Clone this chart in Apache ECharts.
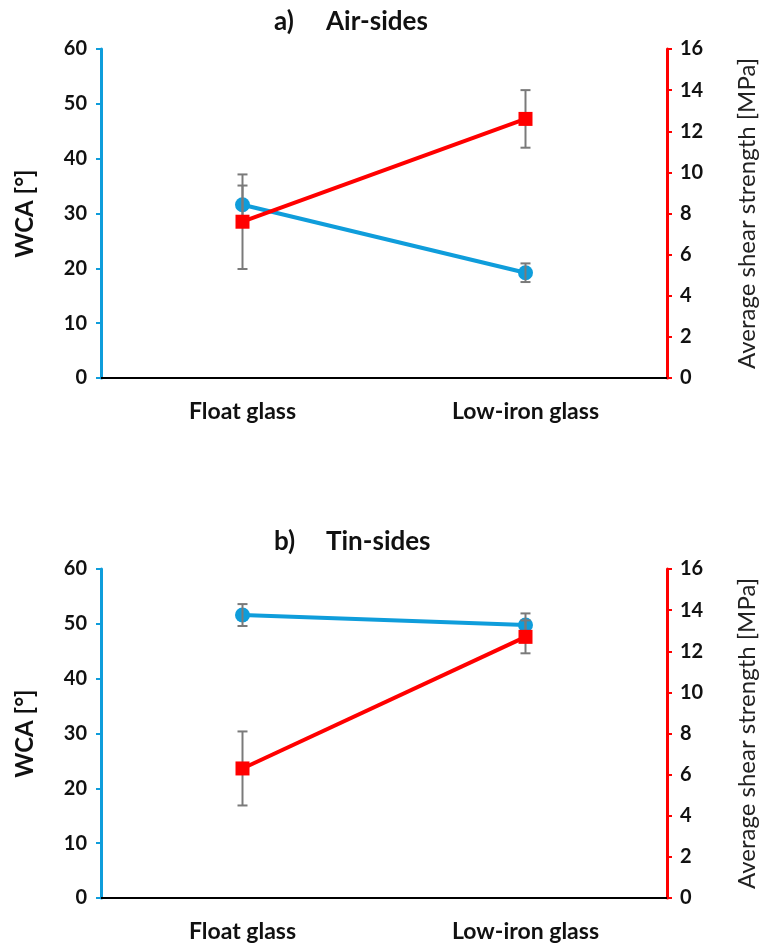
<!DOCTYPE html>
<html><head><meta charset="utf-8">
<script src="https://cdn.jsdelivr.net/npm/echarts@6/dist/echarts.min.js"></script>
<style>html,body{margin:0;padding:0;background:#fff}#c{width:764px;height:947px}</style>
</head><body><div id="c"></div>
<script>
const categories = ['Float glass', 'Low-iron glass'];
const wcaTicks = [0, 10, 20, 30, 40, 50, 60];
const shearTicks = [0, 2, 4, 6, 8, 10, 12, 14, 16];
const airWCA = [31.6, 19.2];
const airWCAErr = [3.5, 1.7];
const airShear = [7.6, 12.6];
const airShearErr = [2.3, 1.4];
const tinWCA = [51.6, 49.8];
const tinWCAErr = [2.0, 2.1];
const tinShear = [6.3, 12.7];
const tinShearErr = [1.8, 0.8];
const titleTags = ['a)', 'b)'];
const titleTexts = ['Air-sides', 'Tin-sides'];

const BLUE = '#0f9ddb', RED = '#ff0000', GRAY = '#7a7a7a';
const FONT = 'Lato';

function errData(vals, errs) { return vals.map((v, i) => [i, v - errs[i], v + errs[i]]); }
function errSeries(xi, yi, vals, errs) {
  return {
    type: 'custom', xAxisIndex: xi, yAxisIndex: yi, z: 3,
    data: errData(vals, errs),
    renderItem: function (params, api) {
      const lo = api.coord([api.value(0), api.value(1)]);
      const hi = api.coord([api.value(0), api.value(2)]);
      const w = 5;
      const st = { stroke: GRAY, lineWidth: 2 };
      return { type: 'group', children: [
        { type: 'line', shape: { x1: lo[0], y1: lo[1], x2: hi[0], y2: hi[1] }, style: st },
        { type: 'line', shape: { x1: lo[0] - w, y1: lo[1], x2: lo[0] + w, y2: lo[1] }, style: st },
        { type: 'line', shape: { x1: hi[0] - w, y1: hi[1], x2: hi[0] + w, y2: hi[1] }, style: st }
      ]};
    }
  };
}
const grids = [
  { left: 101, right: 97, top: 49, height: 329, outerBoundsMode: 'none' },
  { left: 101, right: 97, top: 569, height: 329, outerBoundsMode: 'none' }
];
const xAxes = grids.map((g, i) => ({
  type: 'category', gridIndex: i, data: categories,
  axisLine: { lineStyle: { color: '#000', width: 2 } },
  axisTick: { inside: true, length: 7, lineStyle: { color: '#000', width: 2 } },
  axisLabel: { color: '#111', fontFamily: FONT, fontWeight: 'bold', fontSize: 23, margin: 22 }
}));
const yAxes = [];
grids.forEach((g, i) => {
  yAxes.push({
    type: 'value', gridIndex: i, position: 'left', min: wcaTicks[0], max: wcaTicks[wcaTicks.length - 1], interval: 10,
    name: 'WCA [°]', nameLocation: 'middle', nameGap: 64, nameRotate: 90,
    nameTextStyle: { color: '#111', fontFamily: FONT, fontWeight: 'bold', fontSize: 24 },
    axisLine: { show: true, lineStyle: { color: BLUE, width: 3 } },
    axisTick: { show: true, length: 5, lineStyle: { color: BLUE, width: 2 } },
    splitLine: { show: false },
    axisLabel: { color: '#111', fontFamily: FONT, fontWeight: 'bold', fontSize: 20, margin: 14 }
  });
  yAxes.push({
    type: 'value', gridIndex: i, position: 'right', min: shearTicks[0], max: shearTicks[shearTicks.length - 1], interval: 2,
    name: 'Average shear strength [MPa]', nameLocation: 'middle', nameGap: 68, nameRotate: 90,
    nameTextStyle: { color: '#222', fontFamily: FONT, fontSize: 24 },
    axisLine: { show: true, lineStyle: { color: RED, width: 3 } },
    axisTick: { show: true, length: 5, lineStyle: { color: RED, width: 2 } },
    splitLine: { show: false },
    axisLabel: { color: '#111', fontFamily: FONT, fontWeight: 'bold', fontSize: 20, margin: 13 }
  });
});
function lineS(xi, yi, data, color, symbol, z) {
  return { type: 'line', xAxisIndex: xi, yAxisIndex: yi, data: data, z: z,
    symbol: symbol, symbolSize: symbol === 'circle' ? 15 : 14,
    lineStyle: { color: color, width: 4 }, itemStyle: { color: color }, animation: false };
}
const tStyle = { fontFamily: FONT, fontWeight: 'bold', fontSize: 26, fill: '#111' };
const option = {
  animation: false,
  grid: grids,
  xAxis: xAxes,
  yAxis: yAxes,
  graphic: [
    { type: 'text', left: 274, top: 9, style: Object.assign({ text: titleTags[0] }, tStyle) },
    { type: 'text', left: 326, top: 9, style: Object.assign({ text: titleTexts[0] }, tStyle) },
    { type: 'text', left: 274, top: 529, style: Object.assign({ text: titleTags[1] }, tStyle) },
    { type: 'text', left: 326, top: 529, style: Object.assign({ text: titleTexts[1] }, tStyle) }
  ],
  series: [
    lineS(0, 0, airWCA, BLUE, 'circle', 2),
    errSeries(0, 0, airWCA, airWCAErr),
    errSeries(0, 1, airShear, airShearErr),
    lineS(0, 1, airShear, RED, 'rect', 4),
    lineS(1, 2, tinWCA, BLUE, 'circle', 2),
    errSeries(1, 2, tinWCA, tinWCAErr),
    errSeries(1, 3, tinShear, tinShearErr),
    lineS(1, 3, tinShear, RED, 'rect', 4)
  ]
};
echarts.init(document.getElementById('c')).setOption(option);
</script></body></html>
